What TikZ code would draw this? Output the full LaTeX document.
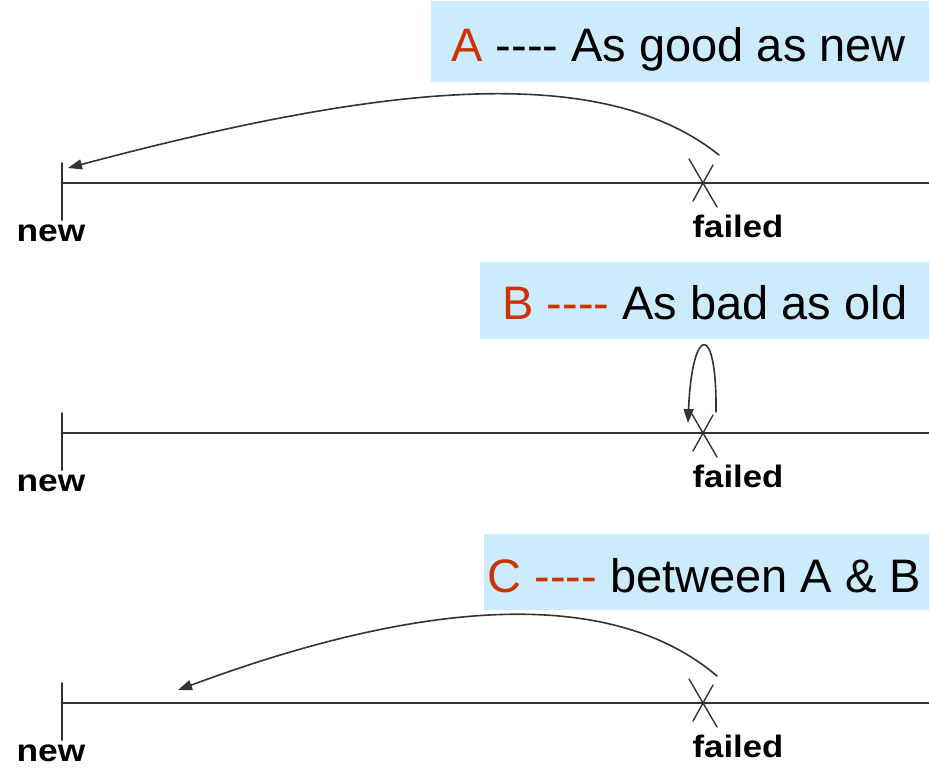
\documentclass[tikz,border=0pt]{standalone}
\usepackage{fontspec}
\setmainfont{Liberation Sans}
\usetikzlibrary{arrows.meta}
\definecolor{boxblue}{RGB}{204,235,252}
\definecolor{letterred}{RGB}{204,51,0}
\definecolor{linegray}{RGB}{51,51,51}

\begin{document}
\begin{tikzpicture}[line cap=round,line join=round,>={Triangle[length=7pt,width=5pt]},x=.5pt,y=-.5pt,
  axisline/.style={color=linegray,line width=1pt},
  repair/.style={->,color=linegray,line width=.8pt},
  boxtext/.style={anchor=base west,inner sep=0pt,font=\fontsize{23.5}{26}\selectfont},
  endlabel/.style={anchor=base,inner sep=0pt,font=\fontsize{15.5}{17}\selectfont\bfseries}]
\useasboundingbox (0,0) rectangle (929,767);
% the three time lines
\foreach \r/\y in {A/183,B/433,C/703}{
\coordinate (start\r) at (62,\y);
\coordinate (fail\r) at (703,\y);
\draw[axisline] (62,\y-20) -- (62,\y+37);
\draw[axisline] (start\r) -- (929,\y);
\draw[color=linegray,line width=.7pt,shift={(703,\y)}] (-14,-24) -- (14,24) (-10,18) -- (10,-18);
\node[endlabel] (new\r) at (51,\y+58) {\scalebox{1.14}[1]{new}};
\node[endlabel] (failed\r) at (738,\y+54) {\scalebox{1.12}[1]{failed}};
}
% titles
\fill[boxblue] (431,1) rectangle (929,82);
\node[boxtext] (titleA) at (451,61) {{\color{letterred}A} -{}-{}-{}- As good as new};
\fill[boxblue] (480,262) rectangle (929,339);
\node[boxtext] (titleB) at (502,319) {{\color{letterred}B -{}-{}-{}-} As bad as old};
\fill[boxblue] (484,534) rectangle (929,610);
\node[boxtext] (titleC) at (487,592) {{\color{letterred}C -{}-{}-{}-} between A \& B};
% repairs
\coordinate (leaveA) at (719,155);
\coordinate (backA) at (68,168);
\draw[repair] (leaveA) .. controls (600,60) and (380,85) .. (backA);
\coordinate (leaveB) at (716,412);
\coordinate (backB) at (688,423);
\draw[repair] (leaveB) .. controls (717,320) and (692,325) .. (backB);
\coordinate (leaveC) at (717,676);
\coordinate (backC) at (178,690);
\draw[repair] (leaveC) .. controls (610,585) and (420,600) .. (backC);
\end{tikzpicture}
\end{document}
